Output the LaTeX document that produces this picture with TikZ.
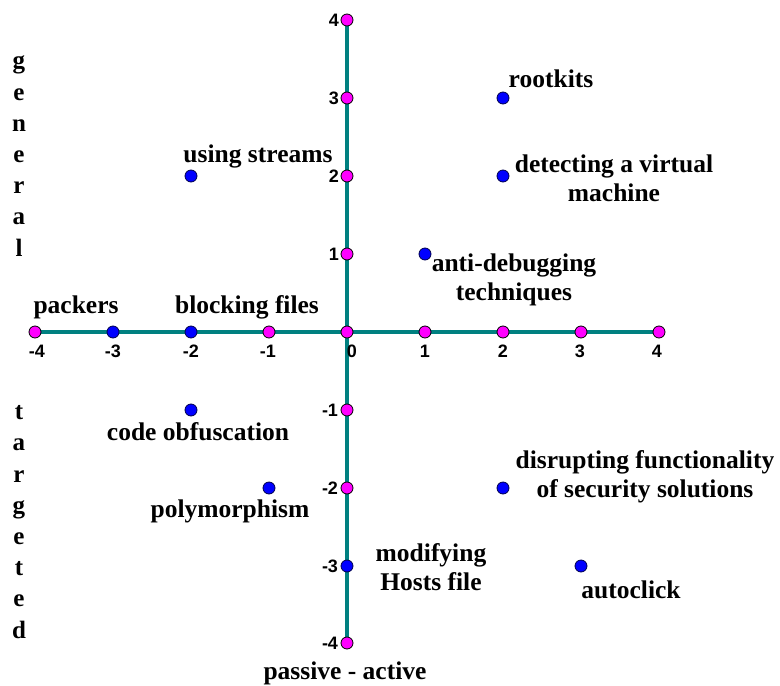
\documentclass[tikz,border=0pt]{standalone}
\usepackage{fontspec}
\setmainfont{Liberation Serif}
\newfontfamily\tickfont{Liberation Sans}
\definecolor{axisteal}{RGB}{0,128,128}
\definecolor{ptmagenta}{RGB}{255,0,255}
\definecolor{ptblue}{RGB}{0,0,255}
\begin{document}
\begin{tikzpicture}[x=1pt,y=-1pt,
  axisline/.style={draw=axisteal,line width=4pt},
  gridpt/.style={circle,draw=black,line width=0.8pt,fill=ptmagenta,minimum size=12pt,inner sep=0pt},
  datapt/.style={circle,draw=black!70!blue,line width=0.8pt,fill=ptblue,minimum size=12pt,inner sep=0pt},
  lbl/.style={font=\fontsize{25.5}{29}\selectfont\bfseries,align=center,inner sep=0pt},
  ticklbl/.style={font=\fontsize{18}{18}\selectfont\tickfont\bfseries,inner sep=0pt},
  vert/.style={font=\fontsize{25}{31.2}\selectfont\bfseries,align=center,inner sep=0pt}]
\useasboundingbox (0,0) rectangle (780,686);

% axes
\coordinate (xl) at (35,332);
\coordinate (xr) at (659,332);
\coordinate (yt) at (347,20);
\coordinate (yb) at (347,643);
\draw[axisline] (xl) -- (xr);
\draw[axisline] (yt) -- (yb);

% scale points on the axes
\node[gridpt] (xm4) at (35,332) {};
\node[gridpt] (xm1) at (269,332) {};
\node[gridpt] (o) at (347,332) {};
\node[gridpt] (xp1) at (425,332) {};
\node[gridpt] (xp2) at (503,332) {};
\node[gridpt] (xp3) at (581,332) {};
\node[gridpt] (xp4) at (659,332) {};
\node[gridpt] (yp4) at (347,20) {};
\node[gridpt] (yp3) at (347,98) {};
\node[gridpt] (yp2) at (347,176) {};
\node[gridpt] (yp1) at (347,254) {};
\node[gridpt] (ym1) at (347,410) {};
\node[gridpt] (ym2) at (347,488) {};
\node[gridpt] (ym4) at (347,643) {};

% technique points
\node[datapt] (pack) at (113,332) {};
\node[datapt] (block) at (191,332) {};
\node[datapt] (hosts) at (347,566) {};
\node[datapt] (root) at (503,98) {};
\node[datapt] (virt) at (503,176) {};
\node[datapt] (stream) at (191,176) {};
\node[datapt] (antidbg) at (425,254) {};
\node[datapt] (obf) at (191,410) {};
\node[datapt] (poly) at (269,488) {};
\node[datapt] (disrupt) at (503,488) {};
\node[datapt] (click) at (581,566) {};

% tick labels
\node[ticklbl] (tx1) at (37,351) {-4};
\node[ticklbl] (tx2) at (113,351) {-3};
\node[ticklbl] (tx3) at (191,351) {-2};
\node[ticklbl] (tx4) at (268,351) {-1};
\node[ticklbl] (tx5) at (352,351) {0};
\node[ticklbl] (tx6) at (425,351) {1};
\node[ticklbl] (tx7) at (503,351) {2};
\node[ticklbl] (tx8) at (580,351) {3};
\node[ticklbl] (tx9) at (657,351) {4};
\node[ticklbl] (ty1) at (334,20) {4};
\node[ticklbl] (ty2) at (334,98) {3};
\node[ticklbl] (ty3) at (334,176) {2};
\node[ticklbl] (ty4) at (334,254) {1};
\node[ticklbl] (ty5) at (330,410) {-1};
\node[ticklbl] (ty6) at (330,488) {-2};
\node[ticklbl] (ty7) at (330,566) {-3};
\node[ticklbl] (ty8) at (330,643) {-4};

% point labels
\node[lbl] (lroot) at (551,79) {rootkits};
\node[lbl] (lvirt) at (614,178) {detecting a virtual\\machine};
\node[lbl] (lstream) at (258,156) {using streams};
\node[lbl] (lanti) at (514,280) {anti-debugging\\techniques};
\node[lbl] (lpack) at (76,307) {packers};
\node[lbl] (lblock) at (247,307) {blocking files};
\node[lbl] (lobf) at (198,432) {code obfuscation};
\node[lbl] (lpoly) at (230,511) {polymorphism};
\node[lbl] (ldisr) at (645,477) {disrupting functionality\\of security solutions};
\node[lbl] (lhost) at (431,567) {modifying\\Hosts file};
\node[lbl] (lclick) at (631,590) {autoclick};
\node[lbl] (laxis) at (345,673) {passive - active};

% vertical axis titles
\node[vert] (lgen) at (19,156) {g\\e\\n\\e\\r\\a\\l};
\node[vert] (ltarg) at (19,522) {t\\a\\r\\g\\e\\t\\e\\d};
\end{tikzpicture}
\end{document}
